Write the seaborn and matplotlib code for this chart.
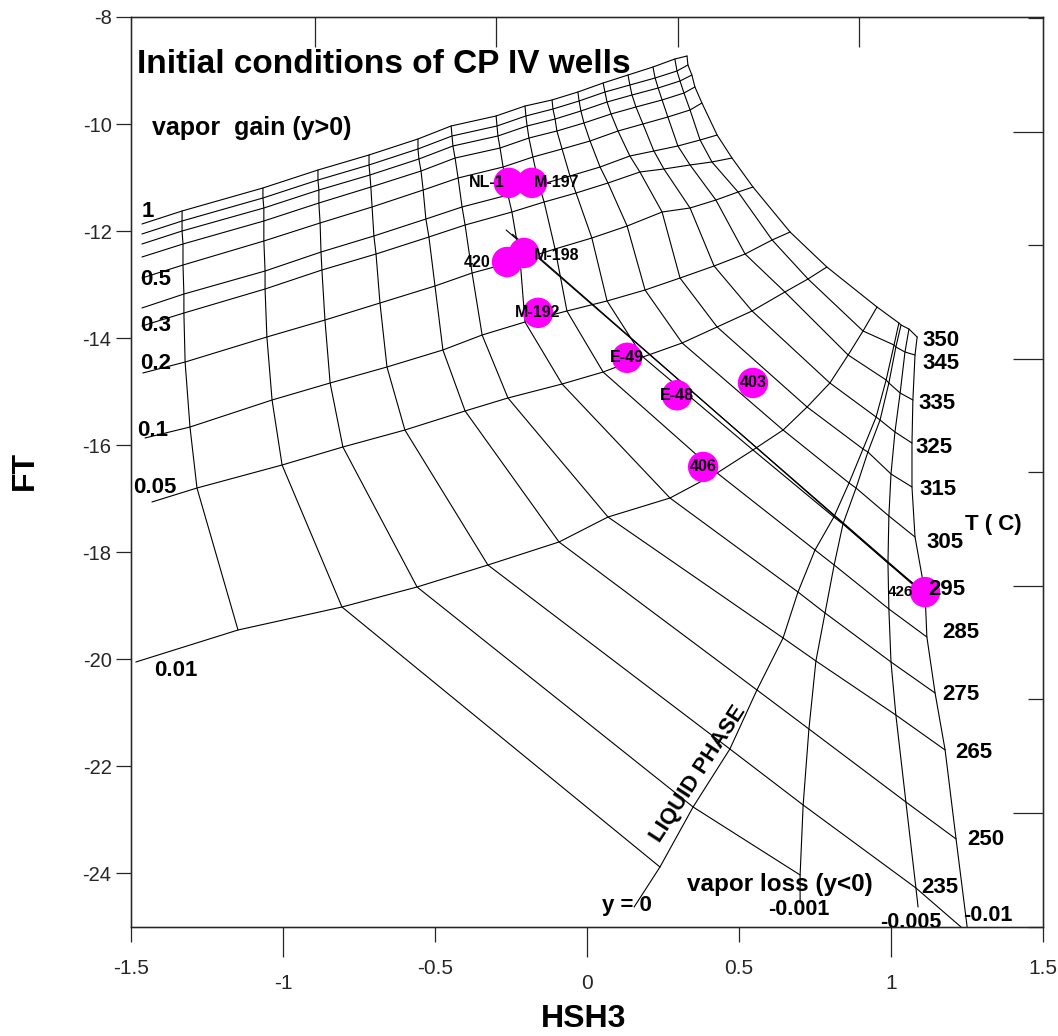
import numpy as np
import pandas as pd
import matplotlib
matplotlib.use("Agg")
import matplotlib.pyplot as plt
import seaborn as sns

sns.set_style("ticks")
plt.rcParams['font.family'] = ['Liberation Sans', 'DejaVu Sans']

nan = np.nan

# grid rows: vapour gain (y > 0) then vapour loss (y <= 0)
gain_rows = [1, 0.9, 0.8, 0.7, 0.5, 0.4, 0.3, 0.2, 0.1, 0.05, 0.01]
loss_rows = [0, -0.001, -0.005, -0.01]

# node coordinates (HSH3, FT) of every isotherm, one value per row
hsh_edge = [-1.464, -1.464, -1.464, -1.464, -1.464, -1.464, -1.464, -1.461, -1.454, -1.431, -1.484, nan, nan, nan, nan]
ft_edge = [-11.869, -12.056, -12.243, -12.486, -12.879, -13.439, -13.776, -14.654, -15.869, -17.065, -20.056, nan, nan, nan, nan]

hsh_175 = [-1.332, -1.332, -1.332, -1.329, -1.329, -1.326, -1.326, -1.322, -1.306, -1.283, -1.148, nan, nan, nan, nan]
ft_175 = [-11.626, -11.813, -12.000, -12.243, -12.636, -13.178, -13.533, -14.449, -15.664, -16.804, -19.458, nan, nan, nan, nan]

hsh_200 = [-1.066, -1.066, -1.063, -1.063, -1.063, -1.059, -1.059, -1.053, -1.036, -1.003, -0.806, 0.240, nan, nan, nan]
ft_200 = [-11.196, -11.383, -11.570, -11.813, -12.187, -12.748, -13.084, -13.981, -15.159, -16.374, -19.028, -23.888, nan, nan, nan]

hsh_220 = [-0.885, -0.885, -0.882, -0.882, -0.878, -0.875, -0.872, -0.862, -0.845, -0.803, -0.559, 0.349, 0.701, nan, nan]
ft_220 = [-10.860, -11.047, -11.234, -11.477, -11.850, -12.393, -12.729, -13.664, -14.841, -16.037, -18.654, -22.766, -24.037, nan, nan]

hsh_235 = [-0.717, -0.717, -0.714, -0.711, -0.707, -0.701, -0.694, -0.681, -0.658, -0.599, -0.326, 0.470, 0.711, 1.082, 1.253]
ft_235 = [-10.579, -10.766, -10.953, -11.178, -11.551, -12.093, -12.430, -13.346, -14.542, -15.720, -18.243, -21.682, -22.729, -24.280, -25.121]

hsh_250 = [-0.556, -0.556, -0.553, -0.546, -0.539, -0.530, -0.520, -0.500, -0.474, -0.401, -0.092, 0.559, 0.730, 1.049, 1.214]
ft_250 = [-10.280, -10.467, -10.654, -10.879, -11.234, -11.776, -12.112, -13.028, -14.224, -15.364, -17.813, -20.579, -21.308, -22.673, -23.364]

hsh_265 = [-0.447, -0.444, -0.441, -0.434, -0.424, -0.411, -0.401, -0.378, -0.345, -0.260, 0.069, 0.645, 0.753, 1.016, 1.178]
ft_265 = [-10.037, -10.224, -10.411, -10.636, -11.009, -11.551, -11.888, -12.785, -13.944, -15.121, -17.346, -19.607, -20.037, -21.047, -21.701]

hsh_275 = [-0.299, -0.296, -0.293, -0.286, -0.276, -0.260, -0.247, -0.220, -0.204, -0.082, 0.273, 0.694, 0.783, 1.000, 1.145]
ft_275 = [-9.850, -10.037, -10.224, -10.449, -10.804, -11.327, -11.645, -12.542, -13.701, -14.860, -16.991, -18.748, -19.140, -20.056, -20.636]

hsh_285 = [-0.204, -0.201, -0.197, -0.191, -0.178, -0.158, -0.141, -0.105, -0.066, 0.053, 0.428, 0.750, 0.813, 0.993, 1.118]
ft_285 = [-9.664, -9.850, -10.037, -10.262, -10.617, -11.140, -11.458, -12.336, -13.495, -14.636, -16.523, -17.963, -18.243, -19.065, -19.589]

hsh_295 = [-0.115, -0.112, -0.105, -0.099, -0.082, -0.056, -0.036, 0.016, 0.066, 0.184, 0.546, 0.812, 0.842, 0.990, 1.112]
ft_295 = [-9.551, -9.720, -9.907, -10.131, -10.467, -10.972, -11.290, -12.131, -13.308, -14.355, -16.093, -17.346, -17.477, -18.206, -18.766]

hsh_305 = [-0.030, -0.026, -0.020, -0.010, 0.010, 0.043, 0.069, 0.132, 0.191, 0.313, 0.645, 0.862, 0.885, 0.993, 1.079]
ft_305 = [-9.402, -9.570, -9.757, -9.981, -10.318, -10.804, -11.103, -11.907, -13.103, -14.093, -15.720, -16.710, -16.804, -17.327, -17.720]

hsh_315 = [0.053, 0.059, 0.066, 0.079, 0.102, 0.141, 0.174, 0.247, 0.306, 0.428, 0.724, 0.908, 0.924, 1.000, 1.069]
ft_315 = [-9.234, -9.402, -9.589, -9.813, -10.131, -10.598, -10.897, -11.645, -12.879, -13.794, -15.290, -16.075, -16.131, -16.542, -16.785]

hsh_325 = [0.135, 0.141, 0.148, 0.161, 0.184, 0.220, 0.253, 0.339, 0.418, 0.543, 0.799, 0.951, 0.964, 1.013, 1.069]
ft_325 = [-9.084, -9.271, -9.458, -9.682, -10.000, -10.505, -10.841, -11.570, -12.654, -13.495, -14.841, -15.477, -15.533, -15.757, -15.963]

hsh_335 = [0.217, 0.224, 0.234, 0.247, 0.266, 0.299, 0.339, 0.424, 0.520, 0.651, 0.859, 0.984, 0.993, 1.030, 1.072]
ft_335 = [-8.935, -9.140, -9.327, -9.551, -9.869, -10.411, -10.766, -11.421, -12.430, -13.140, -14.318, -14.785, -14.841, -15.028, -15.159]

hsh_345 = [0.289, 0.296, 0.306, 0.319, 0.339, 0.372, 0.411, 0.497, 0.609, 0.727, 0.908, 1.010, 1.016, 1.046, 1.079]
ft_345 = [-8.785, -9.009, -9.196, -9.421, -9.738, -10.299, -10.710, -11.271, -12.168, -12.897, -13.869, -14.131, -14.168, -14.262, -14.318]

hsh_350 = [0.329, 0.332, 0.345, 0.355, 0.378, 0.428, 0.477, 0.546, 0.668, 0.789, 0.954, 1.026, 1.033, 1.059, 1.086]
ft_350 = [-8.729, -8.897, -9.084, -9.308, -9.607, -10.206, -10.636, -11.178, -12.019, -12.673, -13.421, -13.720, -13.757, -13.832, -13.981]

# lower ends of the vapour-loss rows
hsh_tail = [0.155, 0.701, 1.089, nan]
ft_tail = [-24.636, -24.561, -24.636, nan]

# wells
wells = ['NL-1', 'M-197', '420', 'M-198', 'M-192', 'E-49', 'E-48', '403', '406', '426']
well_hsh = [-0.257, -0.181, -0.263, -0.207, -0.161, 0.132, 0.296, 0.546, 0.382, 1.112]
well_ft = [-11.10, -11.10, -12.58, -12.41, -13.53, -14.37, -15.07, -14.84, -16.41, -18.75]

# two trend lines towards well 426
trend_hsh = [[-0.266, 1.112], [-0.245, 1.118]]
trend_ft = [[-11.981, -18.785], [-12.060, -18.840]]

iso_T = ['edge', 175, 200, 220, 235, 250, 265, 275, 285, 295, 305, 315, 325, 335, 345, 350]
iso_hsh = [hsh_edge, hsh_175, hsh_200, hsh_220, hsh_235, hsh_250, hsh_265, hsh_275,
           hsh_285, hsh_295, hsh_305, hsh_315, hsh_325, hsh_335, hsh_345, hsh_350]
iso_ft = [ft_edge, ft_175, ft_200, ft_220, ft_235, ft_250, ft_265, ft_275,
          ft_285, ft_295, ft_305, ft_315, ft_325, ft_335, ft_345, ft_350]

# build the grid as one long table of polylines
recs = []
for T, hs, fs in zip(iso_T, iso_hsh, iso_ft):
    if T == 'edge':
        continue
    for i, (h, f) in enumerate(zip(hs, fs)):
        recs.append(('T%s' % T, i, h, f))
all_rows = gain_rows + loss_rows
for r, yv in enumerate(all_rows):
    name = 'y%s' % yv
    k = 0
    if r >= len(gain_rows):
        j = r - len(gain_rows)
        recs.append((name, k, hsh_tail[j], ft_tail[j]))
        k += 1
    for hs, fs in zip(iso_hsh, iso_ft):
        recs.append((name, k, hs[r], fs[r]))
        k += 1
for n, (hs, fs) in enumerate(zip(trend_hsh, trend_ft)):
    for i, (h, f) in enumerate(zip(hs, fs)):
        recs.append(('trend%d' % n, i, h, f))
grid = pd.DataFrame(recs, columns=['line', 'order', 'HSH3', 'FT']).dropna()

fig = plt.figure(figsize=(10.58, 10.36), dpi=100)
ax = fig.add_axes([131 / 1058, 1 - 926.5 / 1036, 912 / 1058, 909.5 / 1036])

sns.lineplot(data=grid, x='HSH3', y='FT', units='line', estimator=None, sort=False,
             color='black', linewidth=0.8, legend=False, ax=ax)

wdf = pd.DataFrame({'well': wells, 'HSH3': well_hsh, 'FT': well_ft})
sns.scatterplot(data=wdf, x='HSH3', y='FT', s=480, color='#FF00FF', edgecolor='none',
                legend=False, ax=ax, zorder=3)

bold = dict(fontweight='bold', color='black')
well_lab = {'NL-1': (-0.270, -11.10, 'right'), 'M-197': (-0.174, -11.10, 'left'),
            '420': (-0.316, -12.58, 'right'), 'M-198': (-0.174, -12.45, 'left'),
            'M-192': (-0.161, -13.53, 'center'), 'E-49': (0.132, -14.37, 'center'),
            'E-48': (0.296, -15.07, 'center'), '403': (0.546, -14.84, 'center'),
            '406': (0.382, -16.41, 'center'), '426': (1.072, -18.75, 'right')}
for w, (x, y, ha) in well_lab.items():
    ax.text(x, y, w, ha=ha, va='center', fontsize=11 if w == '426' else 11.5, zorder=4, **bold)

# grid annotations
ax.text(-1.480, -9.047, 'Initial conditions of CP IV wells', fontsize=24, ha='left', va='baseline', **bold)
ax.text(-1.431, -10.075, 'vapor  gain (y>0)', fontsize=18, ha='left', va='center', **bold)
gain_lab = [('1', -1.464, -11.63), ('0.5', -1.470, -12.90), ('0.3', -1.470, -13.76),
            ('0.2', -1.470, -14.47), ('0.1', -1.480, -15.72), ('0.05', -1.493, -16.79),
            ('0.01', -1.424, -20.21)]
for t, x, y in gain_lab:
    ax.text(x, y, t, fontsize=16, ha='left', va='center', **bold)

T_lab = [('350', 1.105, -14.04), ('345', 1.105, -14.47), ('335', 1.089, -15.22),
         ('325', 1.082, -16.04), ('315', 1.092, -16.84), ('305', 1.118, -17.83),
         ('295', 1.122, -18.71), ('285', 1.168, -19.50), ('275', 1.168, -20.67),
         ('265', 1.211, -21.74), ('250', 1.250, -23.38), ('235', 1.099, -24.28)]
for t, x, y in T_lab:
    ax.text(x, y, t, fontsize=16, ha='left', va='center', **bold)
ax.text(1.243, -17.48, 'T ( C)', fontsize=16, ha='left', va='center', **bold)

ax.text(0.049, -24.60, 'y = 0', fontsize=16, ha='left', va='center', **bold)
ax.text(0.329, -24.21, 'vapor loss (y<0)', fontsize=17.5, ha='left', va='center', **bold)
ax.text(0.595, -24.69, '-0.001', fontsize=15.5, ha='left', va='center', **bold)
ax.text(0.964, -24.92, '-0.005', fontsize=15.5, ha='left', va='center', **bold)
ax.text(1.237, -24.80, '-0.01', fontsize=15.5, ha='left', va='center', **bold)
ax.text(0.365, -22.15, 'LIQUID PHASE', fontsize=16, rotation=57, rotation_mode='anchor',
        ha='center', va='center', **bold)

# axes, ticks
ax.set_xlim(-1.5, 1.5)
ax.set_ylim(-25, -8)
ax.set_xlabel('')
ax.set_ylabel('')
ax.set_xticks([-1, 0, 1])
ax.set_xticklabels(['-1', '0', '1'])
ax.set_xticks([-1.5, -0.5, 0.5, 1.5], minor=True)
ax.set_xticklabels(['-1.5', '-0.5', '0.5', '1.5'], minor=True)
ax.set_yticks(list(range(-24, -7, 2)))
ax.set_yticklabels([str(v) for v in range(-24, -7, 2)])
ax.tick_params(axis='x', which='major', direction='out', length=21.6, width=0.9, pad=12.5, labelsize=15)
ax.tick_params(axis='x', which='minor', direction='out', length=10.8, width=0.9, pad=12.5, labelsize=15)
ax.tick_params(axis='y', which='major', direction='out', length=11, width=0.9, pad=3, labelsize=14.5)
for s in ax.spines.values():
    s.set_linewidth(1.0)

axr = ax.twinx()
axr.set_ylim(0, 8.013)
axr.set_yticks([1, 3, 5, 7])
axr.set_yticks([0, 2, 4, 6, 8], minor=True)
axr.tick_params(axis='y', which='major', direction='in', length=21.6, width=0.9, labelright=False)
axr.tick_params(axis='y', which='minor', direction='in', length=10.8, width=0.9, labelright=False)

axt = ax.twiny()
axt.set_xlim(-0.0166, 5.0166)
axt.set_xticks([1, 2, 3, 4])
axt.tick_params(axis='x', which='major', direction='in', length=21.6, width=0.9, labeltop=False)

fig.text(584 / 1058, 1 - 1019 / 1036, 'HSH3', fontsize=23, ha='center', va='center', **bold)
fig.text(25 / 1058, 1 - 470 / 1036, 'FT', fontsize=23, rotation=90, ha='center', va='center', **bold)

fig.savefig('out.png', dpi=100)
